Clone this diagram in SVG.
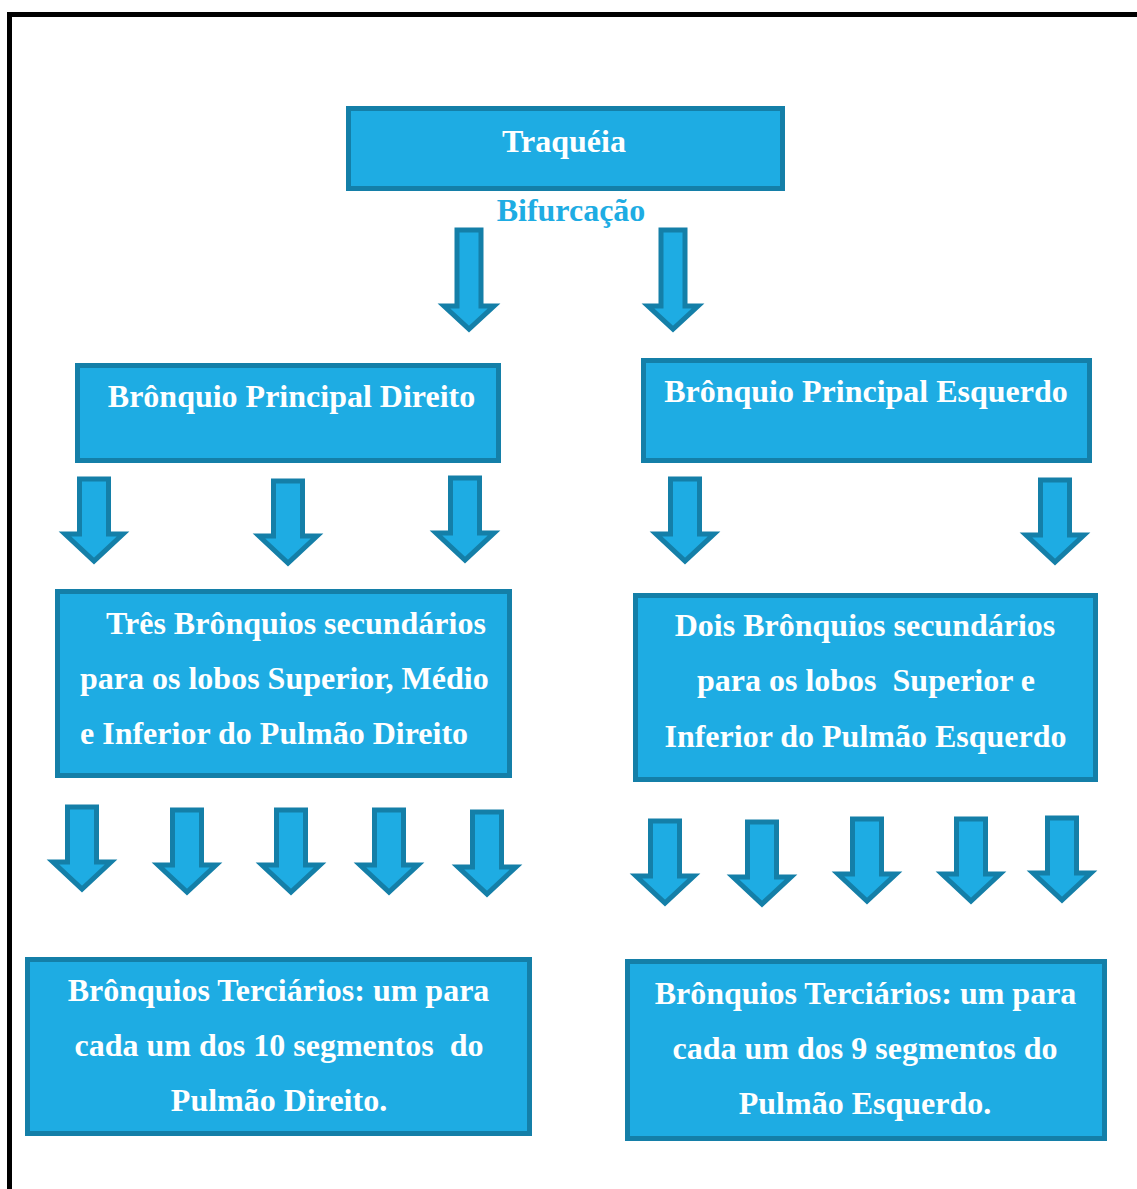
<svg xmlns="http://www.w3.org/2000/svg" xmlns:xlink="http://www.w3.org/1999/xlink" width="1137" height="1189" viewBox="0 0 1137 1189">
<style>
.box{fill:#1EACE3;stroke:#147FA8;stroke-width:5}
.arr{fill:#1EACE3;stroke:#147FA8;stroke-width:5;stroke-linejoin:miter}
.t{font-family:"Liberation Serif","Times New Roman",serif;font-weight:bold;font-size:32px;fill:#ffffff}
.m{text-anchor:middle}
.bif{font-family:"Liberation Serif","Times New Roman",serif;font-weight:bold;font-size:32px;fill:#1EACE3;text-anchor:middle}
</style>
<defs>
<path id="arrBig" d="M-12,2 H12 V78 H25 L0,101 L-25,78 H-12 Z"/>
<path id="arrSm" d="M-14.5,2 H14.5 V57 H29 L0,84 L-29,57 H-14.5 Z"/>
</defs>
<rect width="1137" height="1189" fill="#ffffff"/>
<path d="M9.5,1189 V14.5 H1137" fill="none" stroke="#000000" stroke-width="5"/>

<g id="traqueia">
<rect class="box" x="348.5" y="108.5" width="434" height="80"/>
<text class="t m" x="564" y="152">Traquéia</text>
</g>
<g id="bifurcacao-label">
<text class="bif" x="571" y="221">Bifurcação</text>
</g>

<g id="bronquio-principal-direito">
<rect class="box" x="77.5" y="365.5" width="421" height="95"/>
<text class="t m" x="291.5" y="407">Brônquio Principal Direito</text>
</g>
<g id="bronquio-principal-esquerdo">
<rect class="box" x="643.5" y="360.5" width="446" height="100"/>
<text class="t m" x="866" y="402">Brônquio Principal Esquerdo</text>
</g>

<g id="bronquios-secundarios-direito">
<rect class="box" x="57.5" y="591.5" width="452" height="184"/>
<text class="t" x="106" y="634">Três Brônquios secundários</text>
<text class="t" x="80" y="689">para os lobos Superior, Médio</text>
<text class="t" x="80" y="744">e Inferior do Pulmão Direito</text>
</g>
<g id="bronquios-secundarios-esquerdo">
<rect class="box" x="635.5" y="595.5" width="460" height="184"/>
<text class="t m" x="865" y="636">Dois Brônquios secundários</text>
<text class="t m" x="866" y="691" xml:space="preserve">para os lobos  Superior e</text>
<text class="t m" x="865.5" y="747">Inferior do Pulmão Esquerdo</text>
</g>

<g id="bronquios-terciarios-direito">
<rect class="box" x="27.5" y="959.5" width="502" height="174"/>
<text class="t m" x="278.5" y="1001">Brônquios Terciários: um para</text>
<text class="t m" x="279" y="1056" xml:space="preserve">cada um dos 10 segmentos  do</text>
<text class="t m" x="279" y="1111">Pulmão Direito.</text>
</g>
<g id="bronquios-terciarios-esquerdo">
<rect class="box" x="627.5" y="961.5" width="477" height="177"/>
<text class="t m" x="865.5" y="1004">Brônquios Terciários: um para</text>
<text class="t m" x="865" y="1059">cada um dos 9 segmentos do</text>
<text class="t m" x="865" y="1114">Pulmão Esquerdo.</text>
</g>

<g id="connectors">
<use class="arr" xlink:href="#arrBig" transform="translate(469,228)"/>
<use class="arr" xlink:href="#arrBig" transform="translate(673,228)"/>

<use class="arr" xlink:href="#arrSm" transform="translate(94,477)"/>
<use class="arr" xlink:href="#arrSm" transform="translate(288,479)"/>
<use class="arr" xlink:href="#arrSm" transform="translate(465,476)"/>
<use class="arr" xlink:href="#arrSm" transform="translate(685,477)"/>
<use class="arr" xlink:href="#arrSm" transform="translate(1055,478)"/>

<use class="arr" xlink:href="#arrSm" transform="translate(82,805)"/>
<use class="arr" xlink:href="#arrSm" transform="translate(187,808)"/>
<use class="arr" xlink:href="#arrSm" transform="translate(291,808)"/>
<use class="arr" xlink:href="#arrSm" transform="translate(389,808)"/>
<use class="arr" xlink:href="#arrSm" transform="translate(487,810)"/>

<use class="arr" xlink:href="#arrSm" transform="translate(665,819)"/>
<use class="arr" xlink:href="#arrSm" transform="translate(762,820)"/>
<use class="arr" xlink:href="#arrSm" transform="translate(867,817)"/>
<use class="arr" xlink:href="#arrSm" transform="translate(971,817)"/>
<use class="arr" xlink:href="#arrSm" transform="translate(1062,816)"/>
</g>
</svg>
